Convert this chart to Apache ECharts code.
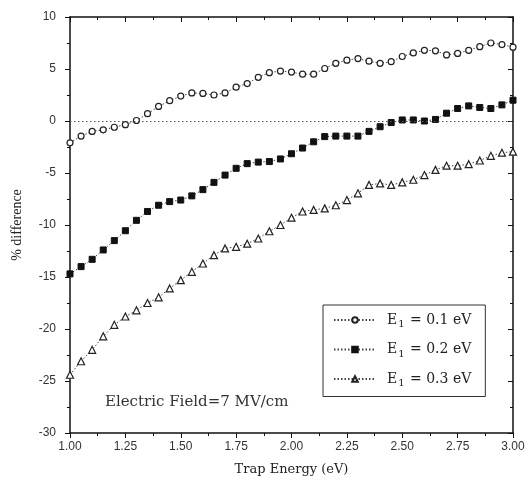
<!DOCTYPE html>
<html>
<head>
<meta charset="utf-8">
<script src="https://cdn.jsdelivr.net/npm/echarts@6/dist/echarts.min.js"></script>
<style>html,body{margin:0;padding:0;background:#fff;}#c{width:529px;height:492px;}</style>
</head>
<body>
<div id="c"></div>
<script>
const trapEnergy = [1.00,1.05,1.10,1.15,1.20,1.25,1.30,1.35,1.40,1.45,1.50,1.55,1.60,1.65,1.70,1.75,1.80,1.85,1.90,1.95,2.00,2.05,2.10,2.15,2.20,2.25,2.30,2.35,2.40,2.45,2.50,2.55,2.60,2.65,2.70,2.75,2.80,2.85,2.90,2.95,3.00];
const e1_01 = [-2.1,-1.45,-1.0,-0.85,-0.6,-0.35,0.05,0.7,1.4,1.95,2.4,2.7,2.65,2.5,2.7,3.25,3.6,4.2,4.65,4.8,4.7,4.5,4.5,5.05,5.55,5.85,6.0,5.75,5.55,5.7,6.2,6.55,6.8,6.75,6.35,6.5,6.8,7.15,7.5,7.35,7.1];
const e1_02 = [-14.7,-14.0,-13.3,-12.4,-11.5,-10.55,-9.55,-8.7,-8.1,-7.75,-7.6,-7.2,-6.6,-5.9,-5.2,-4.55,-4.1,-3.95,-3.9,-3.65,-3.15,-2.6,-2.0,-1.5,-1.45,-1.45,-1.45,-1.0,-0.55,-0.15,0.1,0.1,0.0,0.15,0.75,1.2,1.45,1.3,1.2,1.55,2.0];
const e1_03 = [-24.4,-23.1,-22.0,-20.7,-19.6,-18.8,-18.2,-17.5,-16.95,-16.1,-15.3,-14.5,-13.7,-12.9,-12.25,-12.1,-11.8,-11.3,-10.6,-10.0,-9.3,-8.7,-8.55,-8.4,-8.1,-7.6,-6.95,-6.15,-6.0,-6.15,-5.9,-5.65,-5.2,-4.7,-4.3,-4.3,-4.15,-3.8,-3.35,-3.05,-2.95];
const seriesNames = ['E1 = 0.1 eV','E1 = 0.2 eV','E1 = 0.3 eV'];
const legendLabels = {'E1 = 0.1 eV':'0.1','E1 = 0.2 eV':'0.2','E1 = 0.3 eV':'0.3'};
const annotation = 'Electric Field=7 MV/cm';

const pairs = v => trapEnergy.map((x,i)=>[x,v[i]]);
const lineStyle = {color:'#444', width:1, type:[1.5,2]};
const serif = '"Liberation Serif",serif';
const wserif = '"DejaVu Serif",serif';
const sans = '"Liberation Sans","DejaVu Sans",sans-serif';

const chart = echarts.init(document.getElementById('c'), null, {renderer:'canvas'});
const axBase = {
  axisLine:{show:true, onZero:false, lineStyle:{color:'#111', width:1.5}},
  splitLine:{show:false},
  minorTick:{show:true, splitNumber:2, length:3, lineStyle:{color:'#111', width:1}},
  minorSplitLine:{show:false}
};
chart.setOption({
  animation:false,
  backgroundColor:'#fff',
  grid:{left:70, right:16, top:17, bottom:59, containLabel:false},
  xAxis:[
    Object.assign({}, axBase, {type:'value', min:1, max:3, interval:0.25, position:'bottom',
      axisTick:{show:true, inside:false, length:5, lineStyle:{color:'#111', width:1}},
      axisLabel:{show:true, margin:8, fontFamily:sans, fontSize:12, color:'#333', formatter:v=>v.toFixed(2)},
      name:'Trap Energy (eV)', nameLocation:'middle', nameGap:30,
      nameTextStyle:{fontFamily:wserif, fontSize:13, color:'#222'}}),
    Object.assign({}, axBase, {type:'value', min:1, max:3, interval:0.25, position:'top',
      axisTick:{show:true, inside:true, length:5, lineStyle:{color:'#111', width:1}},
      minorTick:{show:true, splitNumber:2, length:3, lineStyle:{color:'#111', width:1}},
      axisLabel:{show:false}})
  ],
  yAxis:[
    Object.assign({}, axBase, {type:'value', min:-30, max:10, interval:5, position:'left',
      axisTick:{show:true, inside:false, length:5, lineStyle:{color:'#111', width:1}},
      axisLabel:{show:true, margin:14, fontFamily:sans, fontSize:12, color:'#333'},
      name:'% difference', nameLocation:'middle', nameGap:46,
      nameTextStyle:{fontFamily:serif, fontSize:14, color:'#222'}}),
    Object.assign({}, axBase, {type:'value', min:-30, max:10, interval:5, position:'right',
      axisTick:{show:true, inside:true, length:5, lineStyle:{color:'#111', width:1}},
      minorTick:{show:true, splitNumber:2, length:3, lineStyle:{color:'#111', width:1}},
      axisLabel:{show:false}})
  ],
  legend:{
    show:true, orient:'vertical', left:323, top:305,
    padding:[8,14,8,10], itemGap:13, itemWidth:42, itemHeight:7,
    borderColor:'#333', borderWidth:1, backgroundColor:'#fff',
    data:seriesNames,
    formatter: n => '{a|E}{s|1}{a| = ' + legendLabels[n] + ' eV}',
    textStyle:{fontFamily:wserif, fontSize:14, color:'#222', padding:[0,0,0,6],
      rich:{a:{fontFamily:wserif, fontSize:14, color:'#222'}, s:{fontFamily:wserif, fontSize:10, color:'#222', padding:[9,1,0,1]}}}
  },
  graphic:[{type:'text', left:105, top:395, style:{text:annotation, font:'15px '+ wserif, fill:'#333'}}],
  series:[
    {name:seriesNames[0], type:'line', data:pairs(e1_01), symbol:'circle', symbolSize:6,
      itemStyle:{color:'#fff', borderColor:'#222', borderWidth:1.2}, lineStyle:lineStyle,
      markLine:{silent:true, symbol:['none','none'], label:{show:false},
        lineStyle:{color:'#555', width:1, type:[1.5,2.5]}, data:[{yAxis:0}]}},
    {name:seriesNames[1], type:'line', data:pairs(e1_02), symbol:'rect', symbolSize:6,
      itemStyle:{color:'#111', borderColor:'#111', borderWidth:1}, lineStyle:lineStyle},
    {name:seriesNames[2], type:'line', data:pairs(e1_03), symbol:'triangle', symbolSize:7,
      itemStyle:{color:'#fff', borderColor:'#222', borderWidth:1.2}, lineStyle:lineStyle}
  ]
});
</script>
</body>
</html>
